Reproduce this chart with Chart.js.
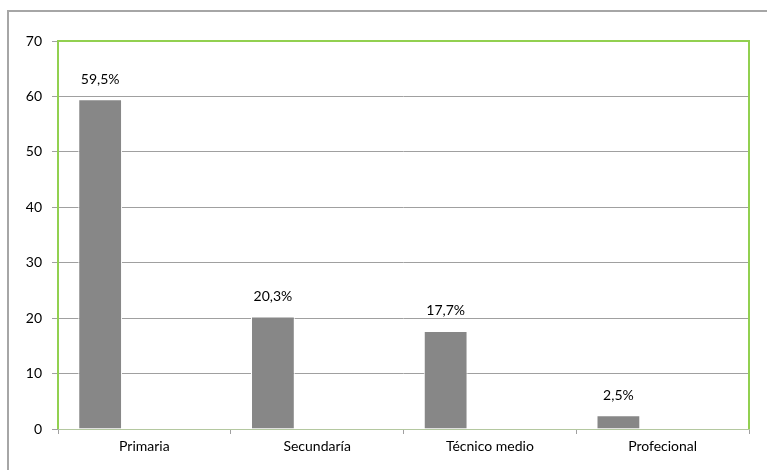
<!DOCTYPE html>
<html>
<head>
<meta charset="utf-8">
<script src="https://cdn.jsdelivr.net/npm/chart.js@4"></script>
<style>
  html, body { margin: 0; padding: 0; background: #fff; }
  #wrap { position: relative; width: 767px; height: 470px; overflow: hidden; }
  #frame { position: absolute; left: 7px; top: 10px; width: 800px; height: 500px;
           border-left: 2px solid #a6a6a6; border-top: 2px solid #a6a6a6; pointer-events: none; }
  canvas { position: absolute; left: 0; top: 0; }
</style>
</head>
<body>
<div id="wrap">
  <canvas id="chart" width="767" height="470"></canvas>
  <div id="frame"></div>
</div>
<script>
const categories = ['Primaria', 'Secundaría', 'Técnico medio', 'Profecional'];
const values = [59.5, 20.3, 17.7, 2.5];
const valueLabels = ['59,5%', '20,3%', '17,7%', '2,5%'];
const emptySeries = [null, null, null, null];

const FONT = 'Lato, "Open Sans", sans-serif';

const plotFrame = {
  id: 'plotFrame',
  afterDraw(chart) {
    const { ctx, chartArea: a } = chart;
    ctx.save();
    ctx.strokeStyle = '#92d050';
    ctx.lineWidth = 2;
    ctx.beginPath();
    ctx.moveTo(a.left, a.bottom);
    ctx.lineTo(a.left, a.top);
    ctx.lineTo(a.right, a.top);
    ctx.lineTo(a.right, a.bottom);
    ctx.stroke();
    ctx.restore();
  }
};

const barLabels = {
  id: 'barLabels',
  afterDatasetsDraw(chart) {
    const { ctx } = chart;
    const meta = chart.getDatasetMeta(0);
    ctx.save();
    ctx.font = '14px ' + FONT;
    ctx.fillStyle = '#000';
    ctx.textAlign = 'center';
    ctx.textBaseline = 'middle';
    meta.data.forEach((bar, i) => {
      ctx.fillText(valueLabels[i], bar.x, bar.y - 20);
    });
    ctx.restore();
  }
};

new Chart(document.getElementById('chart').getContext('2d'), {
  type: 'bar',
  data: {
    labels: categories,
    datasets: [
      {
        data: values,
        backgroundColor: '#878787',
        borderColor: '#ffffff',
        borderWidth: 1,
        categoryPercentage: 0.768,
        barPercentage: 0.99,
      },
      { data: emptySeries, categoryPercentage: 0.768, barPercentage: 0.99 },
      { data: emptySeries, categoryPercentage: 0.768, barPercentage: 0.99 },
    ],
  },
  options: {
    responsive: false,
    animation: false,
    layout: { padding: { left: 0, top: 41, right: 18, bottom: 0 } },
    plugins: { legend: { display: false }, tooltip: { enabled: false } },
    scales: {
      x: {
        afterFit: (s) => { s.height = 41; },
        grid: { offset: true, drawOnChartArea: false, drawTicks: true, tickLength: 5, color: '#a0a0a0' },
        border: { display: true, color: '#b4c8a0', width: 1 },
        ticks: { color: '#000', font: { family: FONT, size: 14 }, padding: 4 },
      },
      y: {
        min: 0,
        max: 70,
        afterFit: (s) => { s.width = 58; },
        grid: { color: '#a0a0a0', tickLength: 6 },
        border: { display: false },
        ticks: { stepSize: 10, color: '#000', font: { family: FONT, size: 14 }, padding: 10 },
      },
    },
  },
  plugins: [plotFrame, barLabels],
});
</script>
</body>
</html>
